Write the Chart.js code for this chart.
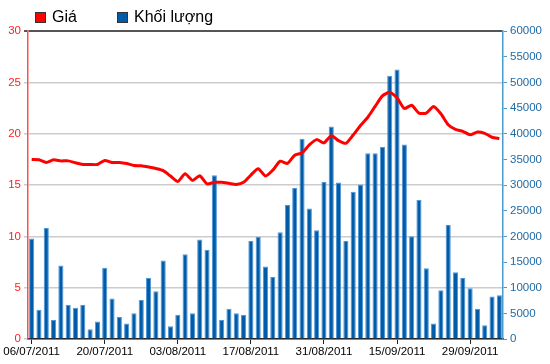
<!DOCTYPE html>
<html>
<head>
<meta charset="utf-8">
<script src="https://cdn.jsdelivr.net/npm/chart.js@4"></script>
<style>
    body { margin: 0; background: #fff; }
    .wrap { position: relative; width: 550px; height: 364px; }
    .legendBox { position: absolute; top: 12px; width: 9px; height: 9px; border: 1px solid #333; }
    .legendText { position: absolute; top: 7px; font: 16px 'Liberation Sans', Arial, sans-serif; line-height: 20px; color: #000; }
</style>
</head>
<body>
<div class="wrap">
    <canvas id="myChart" width="550" height="364"></canvas>
    <div class="legendBox" style="left:35px; background:#ff0000;"></div>
    <div class="legendText" style="left:52px;">Giá</div>
    <div class="legendBox" style="left:117px; background:#005ca8;"></div>
    <div class="legendText" style="left:134px;">Khối lượng</div>
</div>
<script>
const dates = [
    '06/07/2011', '07/07/2011', '08/07/2011', '11/07/2011', '12/07/2011', '13/07/2011', '14/07/2011', '15/07/2011', '18/07/2011', '19/07/2011',
    '20/07/2011', '21/07/2011', '22/07/2011', '25/07/2011', '26/07/2011', '27/07/2011', '28/07/2011', '29/07/2011', '01/08/2011', '02/08/2011',
    '03/08/2011', '04/08/2011', '05/08/2011', '08/08/2011', '09/08/2011', '10/08/2011', '11/08/2011', '12/08/2011', '15/08/2011', '16/08/2011',
    '17/08/2011', '18/08/2011', '19/08/2011', '22/08/2011', '23/08/2011', '24/08/2011', '25/08/2011', '26/08/2011', '29/08/2011', '30/08/2011',
    '31/08/2011', '01/09/2011', '05/09/2011', '06/09/2011', '07/09/2011', '08/09/2011', '09/09/2011', '12/09/2011', '13/09/2011', '14/09/2011',
    '15/09/2011', '16/09/2011', '19/09/2011', '20/09/2011', '21/09/2011', '22/09/2011', '23/09/2011', '26/09/2011', '27/09/2011', '28/09/2011',
    '29/09/2011', '30/09/2011', '03/10/2011', '04/10/2011', '05/10/2011'
];
const price = [
    17.48, 17.45, 17.2, 17.45, 17.35, 17.35, 17.16, 17.0, 17.0, 17.0,
    17.39, 17.2, 17.2, 17.1, 16.9, 16.87, 16.75, 16.6, 16.4, 15.87,
    15.35, 16.1, 15.45, 15.9, 15.1, 15.26, 15.26, 15.16, 15.06, 15.26,
    15.97, 16.58, 15.87, 16.45, 17.32, 17.1, 17.9, 18.13, 18.9, 19.42,
    19.1, 19.8, 19.32, 19.06, 19.87, 20.8, 21.6, 22.65, 23.68, 24.03,
    23.5, 22.45, 22.77, 22.0, 22.0, 22.65, 21.94, 20.87, 20.42, 20.23,
    19.9, 20.16, 20.03, 19.65, 19.52
];
const volume = [
    19600, 5700, 21600, 3700, 14300, 6600, 6100, 6600, 1900, 3400,
    13900, 7900, 4300, 3000, 5000, 7600, 11900, 9300, 15300, 2500,
    4700, 16500, 5000, 19400, 17400, 31900, 3700, 5900, 5000, 4700,
    19100, 19900, 14100, 12100, 20800, 26100, 29400, 39000, 25400, 21200,
    30600, 41400, 30500, 19100, 28700, 30100, 36200, 36200, 37400, 51300,
    52500, 37900, 20000, 27100, 13800, 3000, 9500, 22200, 13000, 11900,
    9900, 5900, 2700, 8300, 8500
];

const tickFont = { family: "'Liberation Sans', Arial, sans-serif", size: 11.5 };

new Chart(document.getElementById('myChart'), {
    type: 'bar',
    data: {
        labels: dates,
        datasets: [
            {
                type: 'line',
                label: 'Giá',
                data: price,
                yAxisID: 'y',
                borderColor: '#ff0000',
                borderWidth: 3,
                pointRadius: 0,
                tension: 0.2,
                order: 0
            },
            {
                label: 'Khối lượng',
                data: volume,
                yAxisID: 'y1',
                backgroundColor: '#005ca8',
                borderColor: '#4f97d8',
                borderWidth: 1,
                barPercentage: 0.7,
                categoryPercentage: 1,
                order: 1
            }
        ]
    },
    options: {
        responsive: false,
        animation: false,
        layout: { padding: { top: 31 } },
        scales: {
            x: {
                offset: true,
                afterFit: scale => { scale.height = 25; },
                border: { color: '#222', width: 1.5 },
                grid: {
                    offset: false,
                    drawOnChartArea: false,
                    tickLength: 5,
                    tickColor: ctx => ctx.index % 10 === 0 ? '#222' : 'rgba(0,0,0,0)'
                },
                ticks: {
                    autoSkip: false,
                    maxRotation: 0,
                    minRotation: 0,
                    padding: 1,
                    color: '#000',
                    font: tickFont,
                    callback: (value, index) => index % 10 === 0 ? dates[index] : ''
                }
            },
            y: {
                position: 'left',
                min: 0,
                max: 30,
                afterFit: scale => { scale.width = 28; },
                border: { color: '#ff5050', width: 1.5 },
                grid: {
                    color: ctx => ctx.tick && ctx.tick.value === 30 ? '#555' : '#cccccc',
                    lineWidth: ctx => ctx.tick && ctx.tick.value === 30 ? 2 : 1.5,
                    tickLength: 4
                },
                ticks: { stepSize: 5, padding: 3, color: '#ff2020', font: tickFont }
            },
            y1: {
                position: 'right',
                min: 0,
                max: 60000,
                afterFit: scale => { scale.width = 47; },
                border: { color: '#4a9ad0', width: 1.5 },
                grid: { drawOnChartArea: false, tickLength: 4, tickColor: '#4a9ad0' },
                ticks: {
                    stepSize: 5000,
                    padding: 3,
                    color: '#1f6aa5',
                    font: tickFont,
                    callback: value => String(value)
                }
            }
        },
        plugins: {
            legend: { display: false },
            tooltip: { enabled: false }
        }
    }
});
</script>
</body>
</html>
